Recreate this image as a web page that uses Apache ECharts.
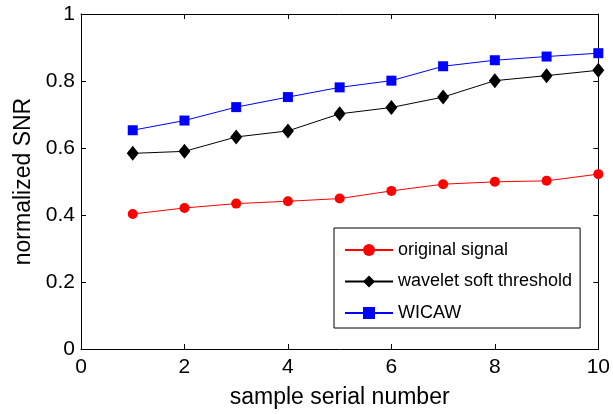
<!DOCTYPE html>
<html><head><meta charset="utf-8">
<script src="https://cdn.jsdelivr.net/npm/echarts@6/dist/echarts.min.js"></script>
<style>html,body{margin:0;padding:0;background:#fff}#c{width:613px;height:414px}</style>
</head><body><div id="c"></div>
<script>
const samples = [1,2,3,4,5,6,7,8,9,10];
const originalSignal = [0.403,0.421,0.434,0.441,0.449,0.472,0.492,0.499,0.502,0.522];
const waveletSoft = [0.584,0.590,0.633,0.651,0.702,0.721,0.752,0.801,0.816,0.832];
const wicaw = [0.653,0.682,0.722,0.752,0.781,0.801,0.844,0.862,0.873,0.883];
const seriesNames = ['original signal','wavelet soft threshold','WICAW'];
const xTicks = [0,2,4,6,8,10];
const yTicks = [0,0.2,0.4,0.6,0.8,1];

const FONT = 'Liberation Sans, Arial, sans-serif';
const chart = echarts.init(document.getElementById('c'), null, {renderer:'canvas'});
const pair = (ys) => samples.map((x,i)=>[x,ys[i]]);
const axisCommon = {
  axisLine:{show:true,onZero:false,lineStyle:{color:'#000',width:1}},
  axisTick:{show:true,inside:true,length:5,lineStyle:{color:'#000'}},
  splitLine:{show:false}
};
chart.setOption({
  animation:false,
  backgroundColor:'#fff',
  grid:{left:81,right:12,top:14,bottom:63,containLabel:false},
  legend:{
    orient:'vertical', left:334, top:228,
    padding:[13,8,6,10], itemGap:13.5, itemWidth:48, itemHeight:15,
    borderColor:'#000', borderWidth:1, backgroundColor:'#fff',
    textStyle:{fontFamily:FONT,fontSize:18,color:'#000'},
    data:seriesNames
  },
  xAxis:[
    Object.assign({type:'value',min:xTicks[0],max:xTicks[xTicks.length-1],interval:xTicks[1]-xTicks[0],position:'bottom',
      name:'sample serial number',nameLocation:'middle',nameGap:37,
      nameTextStyle:{fontFamily:FONT,fontSize:23,color:'#000'},
      axisLabel:{fontFamily:FONT,fontSize:21,color:'#000',margin:8}},axisCommon),
    Object.assign({type:'value',min:xTicks[0],max:xTicks[xTicks.length-1],interval:xTicks[1]-xTicks[0],position:'top',
      axisLabel:{show:false}},axisCommon)
  ],
  yAxis:[
    Object.assign({type:'value',min:yTicks[0],max:yTicks[yTicks.length-1],interval:0.2,position:'left',
      name:'normalized SNR',nameLocation:'middle',nameGap:46,
      nameTextStyle:{fontFamily:FONT,fontSize:23,color:'#000'},
      axisLabel:{fontFamily:FONT,fontSize:21,color:'#000',margin:6,
        formatter:v=>String(+v.toFixed(1))}},axisCommon),
    Object.assign({type:'value',min:yTicks[0],max:yTicks[yTicks.length-1],interval:0.2,position:'right',
      axisLabel:{show:false}},axisCommon)
  ],
  series:[
    {name:seriesNames[0],type:'line',data:pair(originalSignal),symbol:'circle',symbolSize:10,
      lineStyle:{color:'#ff0000',width:1},itemStyle:{color:'#ff0000'}},
    {name:seriesNames[1],type:'line',data:pair(waveletSoft),symbol:'diamond',symbolSize:[12,15],
      lineStyle:{color:'#000000',width:1},itemStyle:{color:'#000000'}},
    {name:seriesNames[2],type:'line',data:pair(wicaw),symbol:'rect',symbolSize:10,
      lineStyle:{color:'#0000ff',width:1},itemStyle:{color:'#0000ff'}}
  ]
});
</script></body></html>
